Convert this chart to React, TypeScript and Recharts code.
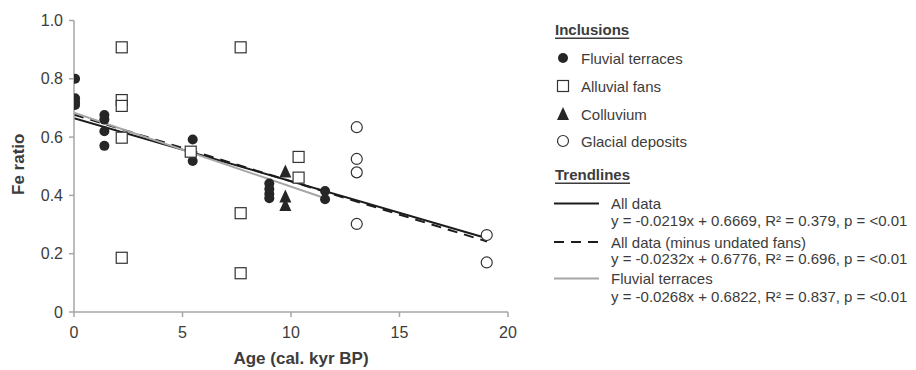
import React from 'react';
import { ComposedChart, Scatter, Line, XAxis, YAxis, Legend } from 'recharts';

// ---- data ----
const fluvialTerraces = [
  { x: 0.05, y: 0.8 }, { x: 0.05, y: 0.733 }, { x: 0.05, y: 0.72 }, { x: 0.05, y: 0.71 },
  { x: 1.4, y: 0.676 }, { x: 1.4, y: 0.66 }, { x: 1.4, y: 0.62 }, { x: 1.4, y: 0.57 },
  { x: 5.47, y: 0.592 }, { x: 5.47, y: 0.518 },
  { x: 9.0, y: 0.441 }, { x: 9.0, y: 0.422 }, { x: 9.0, y: 0.405 }, { x: 9.0, y: 0.39 },
  { x: 11.57, y: 0.415 }, { x: 11.57, y: 0.387 },
];
const alluvialFans = [
  { x: 2.2, y: 0.908 }, { x: 2.2, y: 0.727 }, { x: 2.2, y: 0.707 }, { x: 2.2, y: 0.598 }, { x: 2.2, y: 0.186 },
  { x: 5.38, y: 0.55 },
  { x: 7.68, y: 0.908 }, { x: 7.68, y: 0.339 }, { x: 7.68, y: 0.133 },
  { x: 10.35, y: 0.532 }, { x: 10.35, y: 0.461 },
];
const colluvium = [
  { x: 9.74, y: 0.482 }, { x: 9.74, y: 0.396 }, { x: 9.74, y: 0.367 },
];
const glacialDeposits = [
  { x: 13.03, y: 0.634 }, { x: 13.03, y: 0.525 }, { x: 13.03, y: 0.479 }, { x: 13.03, y: 0.302 },
  { x: 19.02, y: 0.264 }, { x: 19.02, y: 0.17 },
];
const trendAllData = [{ x: 0, y: 0.665 }, { x: 19.03, y: 0.253 }];
const trendMinusFans = [{ x: 0, y: 0.677 }, { x: 19.03, y: 0.242 }];
const trendFluvial = [{ x: 0, y: 0.684 }, { x: 11.57, y: 0.39 }];

const xTicks = [0, 5, 10, 15, 20];
const yTicks = [0, 0.2, 0.4, 0.6, 0.8, 1.0];

const inclusionLabels = ['Fluvial terraces', 'Alluvial fans', 'Colluvium', 'Glacial deposits'];
const trendLabels = ['All data', 'All data (minus undated fans)', 'Fluvial terraces'];
const trendEquations = [
  'y = -0.0219x + 0.6669, R² = 0.379, p = <0.01',
  'y = -0.0232x + 0.6776, R² = 0.696, p = <0.01',
  'y = -0.0268x + 0.6822, R² = 0.837, p = <0.01',
];

const FONT = '"Liberation Sans", Arial, sans-serif';
const TEXT = '#3c3c3c';
const DARK = '#262626';
const AXIS = '#a6a6a6';
const BLACKLINE = '#1c1c1c';
const GREYLINE = '#a6a6a6';

const FilledCircle = (p: any) => <circle cx={p.cx} cy={p.cy} r={5} fill={DARK} />;
const OpenSquare = (p: any) => (
  <rect x={p.cx - 5.5} y={p.cy - 5.5} width={11} height={11} fill="#fff" stroke="#333" strokeWidth={1.2} />
);
const Triangle = (p: any) => (
  <polygon points={`${p.cx},${p.cy - 7} ${p.cx - 6},${p.cy + 6} ${p.cx + 6},${p.cy + 6}`} fill={DARK} />
);
const OpenCircle = (p: any) => (
  <circle cx={p.cx} cy={p.cy} r={5.5} fill="#fff" stroke="#333" strokeWidth={1.2} />
);

const LegendBox = () => {
  const markerY = [48, 76, 104, 131];
  const markers = [
    <circle key="m0" cx={15} cy={markerY[0]} r={5} fill={DARK} />,
    <rect key="m1" x={9.5} y={markerY[1] - 5.5} width={11} height={11} fill="#fff" stroke="#333" strokeWidth={1.2} />,
    <polygon key="m2" points={`15,${markerY[2] - 7} 9,${markerY[2] + 6} 21,${markerY[2] + 6}`} fill={DARK} />,
    <circle key="m3" cx={15} cy={markerY[3]} r={5.5} fill="#fff" stroke="#333" strokeWidth={1.2} />,
  ];
  const lineY = [193.5, 232, 268.5];
  const eqY = [210.5, 248, 286.5];
  const lineStyles = [
    { stroke: BLACKLINE, dash: undefined },
    { stroke: BLACKLINE, dash: '10 7' },
    { stroke: GREYLINE, dash: undefined },
  ];
  const ts = { fontFamily: FONT, fontSize: 15, fill: TEXT } as const;
  return (
    <svg width={370} height={300} style={{ display: 'block' }}>
      <text x={7} y={19} dominantBaseline="central" {...ts} fontWeight="bold" textDecoration="underline">Inclusions</text>
      {markers}
      {inclusionLabels.map((l, i) => (
        <text key={l} x={33} y={markerY[i]} dominantBaseline="central" {...ts}>{l}</text>
      ))}
      <text x={7} y={164} dominantBaseline="central" {...ts} fontWeight="bold" textDecoration="underline">Trendlines</text>
      {trendLabels.map((l, i) => (
        <g key={l}>
          <line x1={6} x2={51} y1={lineY[i]} y2={lineY[i]} stroke={lineStyles[i].stroke} strokeWidth={2} strokeDasharray={lineStyles[i].dash} />
          <text x={63} y={lineY[i]} dominantBaseline="central" {...ts}>{l}</text>
          <text x={63} y={eqY[i]} dominantBaseline="central" {...ts}>{trendEquations[i]}</text>
        </g>
      ))}
    </svg>
  );
};

const XLabel = (props: any) => {
  const vb = props.viewBox || { x: 66, y: 304, width: 434, height: 58 };
  return (
    <text x={vb.x + vb.width / 2 + 10} y={vb.y + 46} textAnchor="middle" dominantBaseline="central"
      fontFamily={FONT} fontSize={17} fontWeight="bold" fill={TEXT}>Age (cal. kyr BP)</text>
  );
};
const YLabel = (props: any) => {
  const vb = props.viewBox || { x: 0, y: 12.5, width: 66, height: 291.5 };
  const cx = 10;
  const cy = vb.y + vb.height / 2 - 2;
  return (
    <text x={cx} y={cy} textAnchor="middle" dominantBaseline="central" transform={`rotate(-90, ${cx}, ${cy})`}
      fontFamily={FONT} fontSize={17} fontWeight="bold" fill={TEXT}>Fe ratio</text>
  );
};

export default function App() {
  return (
    <div style={{ width: 900, height: 362, fontFamily: FONT }}>
      <ComposedChart width={900} height={362} margin={{ top: 12.5, right: 400, left: 0, bottom: 0 }}>
        <XAxis
          type="number" dataKey="x" domain={[0, 20]} ticks={xTicks} allowDataOverflow
          height={58}
          axisLine={{ stroke: AXIS, strokeWidth: 1.5 }}
          tickLine={{ stroke: AXIS, strokeWidth: 1.5 }}
          tickSize={5} tickMargin={10}
          tick={{ fill: TEXT, fontSize: 16, fontFamily: FONT }}
          label={<XLabel />}
        />
        <YAxis
          type="number" dataKey="y" domain={[0, 1]} ticks={yTicks} allowDataOverflow
          width={66}
          axisLine={{ stroke: AXIS, strokeWidth: 1.5 }}
          tickLine={{ stroke: AXIS, strokeWidth: 1.5 }}
          tickSize={5} tickMargin={6}
          tick={{ fill: TEXT, fontSize: 16, fontFamily: FONT }}
          tickFormatter={(v: number) => (v === 0 ? '0' : v.toFixed(1))}
          label={<YLabel />}
        />
        <Line data={trendAllData} dataKey="y" stroke={BLACKLINE} strokeWidth={2} dot={false} activeDot={false} isAnimationActive={false} />
        <Line data={trendMinusFans} dataKey="y" stroke={BLACKLINE} strokeWidth={2} strokeDasharray="10 7" dot={false} activeDot={false} isAnimationActive={false} />
        <Line data={trendFluvial} dataKey="y" stroke={GREYLINE} strokeWidth={2} dot={false} activeDot={false} isAnimationActive={false} />
        <Scatter data={fluvialTerraces} shape={FilledCircle} isAnimationActive={false} />
        <Scatter data={alluvialFans} shape={OpenSquare} isAnimationActive={false} />
        <Scatter data={colluvium} shape={Triangle} isAnimationActive={false} />
        <Scatter data={glacialDeposits} shape={OpenCircle} isAnimationActive={false} />
        <Legend
          layout="horizontal" verticalAlign="middle" align="center"
          wrapperStyle={{ left: 540, top: 2, width: 370, height: 300 }}
          content={() => <LegendBox />}
        />
      </ComposedChart>
    </div>
  );
}
